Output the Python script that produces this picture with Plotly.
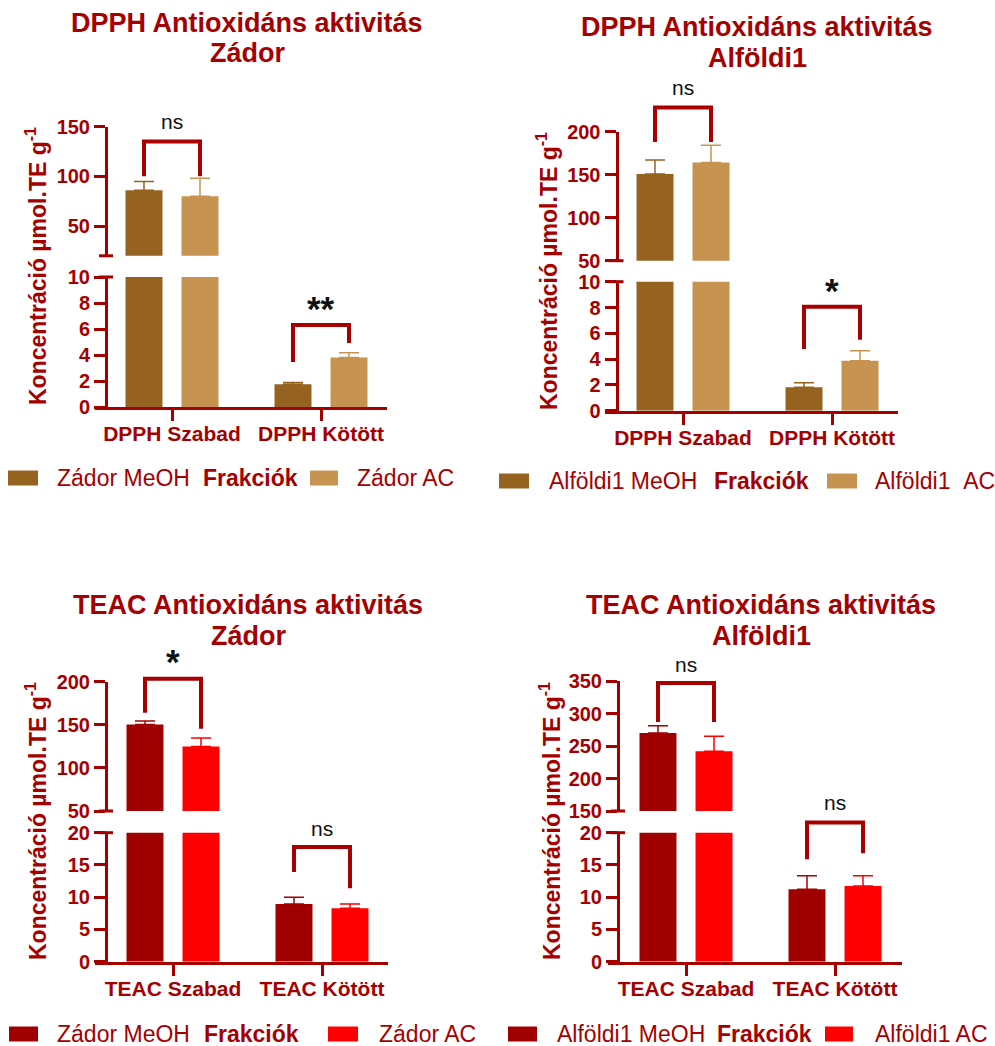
import plotly.graph_objects as go

W, H = 995, 1046

# ---------------- data ----------------
dpph_categories = ["DPPH Szabad", "DPPH Kötött"]
teac_categories = ["TEAC Szabad", "TEAC Kötött"]

zador_dpph_meoh = [85.9, 1.75]
zador_dpph_meoh_sd = [8.8, 0.14]
zador_dpph_ac = [79.9, 3.81]
zador_dpph_ac_sd = [18.1, 0.36]

alfoldi_dpph_meoh = [150.8, 1.81]
alfoldi_dpph_meoh_sd = [16.3, 0.36]
alfoldi_dpph_ac = [164.3, 3.88]
alfoldi_dpph_ac_sd = [19.9, 0.77]

zador_teac_meoh = [150.3, 8.95]
zador_teac_meoh_sd = [4.0, 1.03]
zador_teac_ac = [124.8, 8.28]
zador_teac_ac_sd = [10.0, 0.67]

alfoldi_teac_meoh = [270.0, 11.22]
alfoldi_teac_meoh_sd = [11.2, 2.1]
alfoldi_teac_ac = [241.8, 11.74]
alfoldi_teac_ac_sd = [23.1, 1.6]

zador_dpph_sig = ["ns", "**"]
alfoldi_dpph_sig = ["ns", "*"]
zador_teac_sig = ["*", "ns"]
alfoldi_teac_sig = ["ns", "ns"]

dpph_lower_ticks = [0, 2, 4, 6, 8, 10]
zador_dpph_upper_ticks = [50, 100, 150]
alfoldi_dpph_upper_ticks = [50, 100, 150, 200]
teac_lower_ticks = [0, 5, 10, 15, 20]
zador_teac_upper_ticks = [50, 100, 150, 200]
alfoldi_teac_upper_ticks = [150, 200, 250, 300, 350]

y_title = "Koncentráció µmol.TE g<sup>-1</sup>"
legend_title = "Frakciók"

# ---------------- style ----------------
TXT = "#A50000"
BRACKET = "#A80000"
DPPH_MEOH = "#95621F"
DPPH_AC = "#C69450"
TEAC_MEOH = "#A00000"
TEAC_AC = "#FF0000"
FONT = "Liberation Sans, Arial, sans-serif"

BARGAP = 0.248
BARGROUPGAP = 0.34
HALF = (1 - BARGAP) / 4  # offset of each bar centre from its category centre


def px_x(p):
    return p / W


def px_y(p):
    return 1 - p / H


def seg_px(seg, v):
    v0, p0, v1, p1 = seg
    return p0 + (v - v0) * (p1 - p0) / (v1 - v0)


panels = [
    dict(title=["DPPH Antioxidáns aktivitás", "Zádor"], title_x=247, title_y=[23, 53],
         cats=dpph_categories,
         series=[(zador_dpph_meoh, zador_dpph_meoh_sd), (zador_dpph_ac, zador_dpph_ac_sd)],
         names=["Zádor MeOH", "Zádor AC"], colors=[DPPH_MEOH, DPPH_AC], sig=zador_dpph_sig,
         axis_x=106, x_dom=(95, 387), cat0=172, step=149,
         lower=(0, 407, 10, 277), upper=(20, 255.8, 150, 126.7),
         lower_ticks=dpph_lower_ticks, upper_ticks=zador_dpph_upper_ticks,
         brackets=[("upper", 135, 100, 100, 155), ("lower", 6.3, 3.46, 4.92, 7.6)],
         ytitle=(36, 266),
         legend=dict(y=478, sw1=(8, 38), t1=55, frak=201, sw2=(310, 338), t2=355)),
    dict(title=["DPPH Antioxidáns aktivitás", "Alföldi1"], title_x=757, title_y=[27, 58],
         cats=dpph_categories,
         series=[(alfoldi_dpph_meoh, alfoldi_dpph_meoh_sd), (alfoldi_dpph_ac, alfoldi_dpph_ac_sd)],
         names=["Alföldi1 MeOH", "Alföldi1\u00a0\u00a0AC"], colors=[DPPH_MEOH, DPPH_AC], sig=alfoldi_dpph_sig,
         axis_x=616.5, x_dom=(605, 898), cat0=683, step=149,
         lower=(0, 410.7, 10, 281.7), upper=(50, 260.7, 200, 131.7),
         lower_ticks=dpph_lower_ticks, upper_ticks=alfoldi_dpph_upper_ticks,
         brackets=[("upper", 228, 188, 188, 251), ("lower", 8.06, 4.78, 5.5, 9.3)],
         ytitle=(547, 271),
         legend=dict(y=481, sw1=(499, 529), t1=547, frak=712, sw2=(827, 857), t2=873)),
    dict(title=["TEAC Antioxidáns aktivitás", "Zádor"], title_x=248, title_y=[605, 636],
         cats=teac_categories,
         series=[(zador_teac_meoh, zador_teac_meoh_sd), (zador_teac_ac, zador_teac_ac_sd)],
         names=["Zádor MeOH", "Zádor AC"], colors=[TEAC_MEOH, TEAC_AC], sig=zador_teac_sig,
         axis_x=106, x_dom=(95, 388), cat0=173, step=149,
         lower=(0, 961.7, 20, 832.7), upper=(50, 811, 200, 681.7),
         lower_ticks=teac_lower_ticks, upper_ticks=zador_teac_upper_ticks,
         brackets=[("upper", 203.5, 164, 145.3, 223), ("lower", 17.8, 13.9, 11.4, 20.7)],
         ytitle=(36, 821),
         legend=dict(y=1034, sw1=(9, 38), t1=55, frak=202, sw2=(328, 358), t2=377)),
    dict(title=["TEAC Antioxidáns aktivitás", "Alföldi1"], title_x=761, title_y=[605, 636],
         cats=teac_categories,
         series=[(alfoldi_teac_meoh, alfoldi_teac_meoh_sd), (alfoldi_teac_ac, alfoldi_teac_ac_sd)],
         names=["Alföldi1 MeOH", "Alföldi1 AC"], colors=[TEAC_MEOH, TEAC_AC], sig=alfoldi_teac_sig,
         axis_x=618, x_dom=(608, 902), cat0=686, step=149,
         lower=(0, 961.7, 20, 832.7), upper=(150, 811, 350, 681),
         lower_ticks=teac_lower_ticks, upper_ticks=alfoldi_teac_upper_ticks,
         brackets=[("upper", 347, 287, 287, 376), ("lower", 21.6, 15.9, 16.8, 24.7)],
         ytitle=(550, 821),
         legend=dict(y=1034, sw1=(508, 537), t1=555, frak=715, sw2=(825, 853), t2=873)),
]


def aid(letter, n):
    return letter if n == 1 else f"{letter}{n}"


def akey(letter, n):
    return f"{letter}axis" if n == 1 else f"{letter}axis{n}"


fig = go.Figure()
layout = {}
shapes = []
annotations = []

for i, p in enumerate(panels):
    xn, yl, yu = i + 1, 2 * i + 1, 2 * i + 2
    xs = list(range(len(p["cats"])))

    # bars: drawn on both the lower and the upper segment of the broken axis
    for yn in (yl, yu):
        for k, (vals, sd) in enumerate(p["series"]):
            fig.add_trace(go.Bar(
                x=xs, y=vals, name=p["names"][k], showlegend=False,
                xaxis=aid("x", xn), yaxis=aid("y", yn), offsetgroup=str(k),
                marker=dict(color=p["colors"][k], line=dict(width=0)),
                error_y=dict(type="data", array=sd, arrayminus=[0] * len(sd),
                             symmetric=False, color=p["colors"][k], thickness=1.5, width=10),
            ))

    lo = (p["x_dom"][0] - p["cat0"]) / p["step"]
    hi = (p["x_dom"][1] - p["cat0"]) / p["step"]
    layout[akey("x", xn)] = dict(
        domain=[px_x(p["x_dom"][0]), px_x(p["x_dom"][1])], range=[lo, hi],
        anchor=aid("y", yl), tickvals=xs, ticktext=p["cats"], automargin=False,
        showline=True, linewidth=3, linecolor=TXT, ticks="outside", ticklen=11,
        tickwidth=3, tickcolor=TXT, showgrid=False, zeroline=False, ticklabelstandoff=-5,
        tickfont=dict(family=FONT, size=21, color=TXT, weight="bold"),
    )
    for yn, seg, ticks in ((yl, p["lower"], p["lower_ticks"]), (yu, p["upper"], p["upper_ticks"])):
        v0, p0, v1, p1 = seg
        layout[akey("y", yn)] = dict(
            domain=[px_y(p0), px_y(p1)], range=[v0, v1], anchor="free",
            position=px_x(p["axis_x"]), tickvals=ticks, automargin=False,
            showline=True, linewidth=3, linecolor=TXT, ticks="outside", ticklen=11,
            tickwidth=3, tickcolor=TXT, showgrid=False, zeroline=False,
            tickfont=dict(family=FONT, size=20, color=TXT, weight="bold"),
        )

    # break marks at the ends of the two axis segments
    for yv in (p["upper"][1], p["lower"][3]):
        shapes.append(dict(type="line", xref="paper", yref="paper",
                           x0=px_x(p["axis_x"] - 7), x1=px_x(p["axis_x"] + 7),
                           y0=px_y(yv), y1=px_y(yv), line=dict(color=TXT, width=3)))

    # significance brackets
    for c, (segname, top, leg_l, leg_r, txt_v) in enumerate(p["brackets"]):
        seg = p[segname]
        xa, xb = c - HALF, c + HALF
        path = (f"M {xa},{px_y(seg_px(seg, leg_l))} L {xa},{px_y(seg_px(seg, top))} "
                f"L {xb},{px_y(seg_px(seg, top))} L {xb},{px_y(seg_px(seg, leg_r))}")
        shapes.append(dict(type="path", xref=aid("x", xn), yref="paper", path=path,
                           line=dict(color=BRACKET, width=4)))
        label = p["sig"][c]
        star = label.startswith("*")
        annotations.append(dict(
            x=c, xref=aid("x", xn), y=px_y(seg_px(seg, txt_v)), yref="paper",
            text=label, showarrow=False, xanchor="center", yanchor="middle",
            font=dict(family=FONT, size=35 if star else 21, color="#111111",
                      weight="bold" if star else "normal"),
        ))

    # panel title
    for line, ty in zip(p["title"], p["title_y"]):
        annotations.append(dict(
            x=px_x(p["title_x"]), y=px_y(ty), xref="paper", yref="paper", text=line,
            showarrow=False, xanchor="center", yanchor="middle",
            font=dict(family=FONT, size=27, color=TXT, weight="bold")))

    # y axis title spanning both segments
    annotations.append(dict(
        x=px_x(p["ytitle"][0]), y=px_y(p["ytitle"][1]), xref="paper", yref="paper",
        text=y_title, textangle=-90, showarrow=False, xanchor="center", yanchor="middle",
        font=dict(family=FONT, size=23, color=TXT, weight="bold")))

    # legend row
    lg = p["legend"]
    for (sx0, sx1), col in ((lg["sw1"], p["colors"][0]), (lg["sw2"], p["colors"][1])):
        shapes.append(dict(type="rect", xref="paper", yref="paper",
                           x0=px_x(sx0), x1=px_x(sx1), y0=px_y(lg["y"] - 7.5), y1=px_y(lg["y"] + 7.5),
                           fillcolor=col, line=dict(width=0)))
    for tx, text, wt in ((lg["t1"], p["names"][0], "normal"), (lg["frak"], legend_title, "bold"),
                         (lg["t2"], p["names"][1], "normal")):
        annotations.append(dict(
            x=px_x(tx), y=px_y(lg["y"]), xref="paper", yref="paper", text=text,
            showarrow=False, xanchor="left", yanchor="middle",
            font=dict(family=FONT, size=23, color=TXT, weight=wt)))

fig.update_layout(
    width=W, height=H, autosize=False,
    margin=dict(l=0, r=0, t=0, b=0, pad=0, autoexpand=False),
    paper_bgcolor="white", plot_bgcolor="white",
    barmode="group", bargap=BARGAP, bargroupgap=BARGROUPGAP,
    shapes=shapes, annotations=annotations,
    showlegend=False,
    font=dict(family=FONT, color=TXT),
    **layout,
)

fig.write_html("out.html")
